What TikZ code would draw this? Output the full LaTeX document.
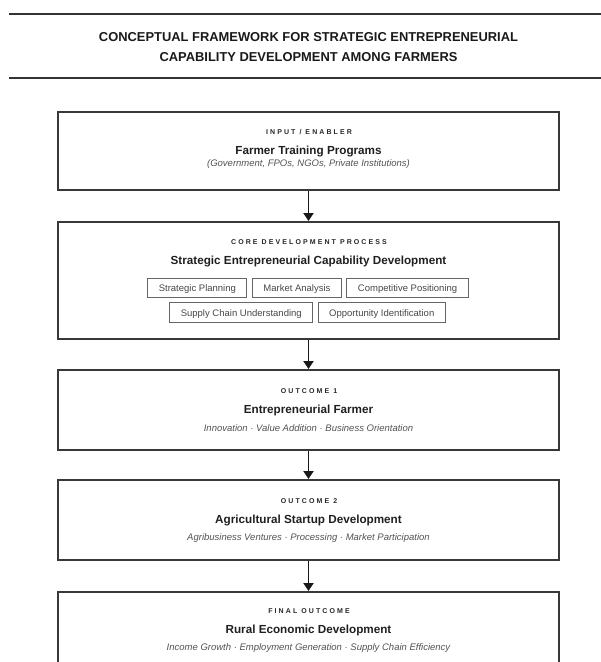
\documentclass[tikz,border=0pt]{standalone}
\usepackage{fontspec}
\setmainfont{Liberation Sans}
\newfontfamily\tagfont[LetterSpace=30]{Liberation Sans}
\usetikzlibrary{arrows.meta, positioning}

\tikzset{
  stage/.style={draw=black!78, line width=2pt, minimum width=501pt, inner sep=0pt, anchor=north},
  tag/.style={font=\tagfont\bfseries\fontsize{7}{8}\selectfont, text=black!85},
  head/.style={font=\bfseries\fontsize{11.7}{13}\selectfont, text=black!88},
  note/.style={font=\itshape\fontsize{9.5}{11}\selectfont, text=black!68},
  skill/.style={draw=black!60, line width=1pt, font=\fontsize{9.5}{10}\selectfont, text=black!72, inner xsep=11pt, inner ysep=0pt, text height=8.5pt, text depth=1pt, minimum height=19.5pt},
  flow/.style={-{Triangle[length=8pt,width=10pt]}, line width=1.8pt, black!90}
}

\begin{document}
\begin{tikzpicture}[x=1pt, y=-1pt]
\useasboundingbox (0,0) rectangle (601,662);
\clip (0,0) rectangle (601,662);

% title
\draw[line width=2.5pt, black!80] (9,14) -- (601,14);
\draw[line width=2pt, black!80] (9,78) -- (601,78);
\node[font=\bfseries\fontsize{12.9}{15}\selectfont, text=black!90] (title1) at (308.5,37) {CONCEPTUAL FRAMEWORK FOR STRATEGIC ENTREPRENEURIAL};
\node[font=\bfseries\fontsize{12.9}{15}\selectfont, text=black!90] (title2) at (308.5,57) {CAPABILITY DEVELOPMENT AMONG FARMERS};

% stages
\node[stage, minimum height=78pt] (input) at (308.5,111) {};
\node[stage, minimum height=117pt] (core) at (308.5,221) {};
\node[stage, minimum height=80pt] (farmer) at (308.5,369) {};
\node[stage, minimum height=80pt] (startup) at (308.5,479) {};
\node[stage, minimum height=90pt] (rural) at (308.5,591) {};

% input / enabler
\node[tag] (inputtag) at (309,132) {INPUT / ENABLER};
\node[head] (inputhead) at (308.5,151) {Farmer Training Programs};
\node[note] (inputnote) at (308.5,164) {(Government, FPOs, NGOs, Private Institutions)};

% core process
\node[tag] (coretag) at (309,242) {CORE DEVELOPMENT PROCESS};
\node[head] (corehead) at (308.5,261) {Strategic Entrepreneurial Capability Development};
\node[skill, anchor=west] (planning) at (147.3,288) {Strategic Planning};
\node[skill, right=4.5pt of planning] (market) {Market Analysis};
\node[skill, right=4.5pt of market] (position) {Competitive Positioning};
\node[skill, anchor=west] (supply) at (169.3,312.5) {Supply Chain Understanding};
\node[skill, right=4.5pt of supply] (opportunity) {Opportunity Identification};

% outcome 1
\node[tag] (farmertag) at (309,391) {OUTCOME 1};
\node[head] (farmerhead) at (308.5,410) {Entrepreneurial Farmer};
\node[note] (farmernote) at (308.5,428) {Innovation · Value Addition · Business Orientation};

% outcome 2
\node[tag] (startuptag) at (309,501) {OUTCOME 2};
\node[head] (startuphead) at (308.5,520) {Agricultural Startup Development};
\node[note] (startupnote) at (308.5,538) {Agribusiness Ventures · Processing · Market Participation};

% final outcome
\node[tag] (ruraltag) at (309,611) {FINAL OUTCOME};
\node[head] (ruralhead) at (308.5,630) {Rural Economic Development};
\node[note] (ruralnote) at (308.5,648) {Income Growth · Employment Generation · Supply Chain Efficiency};

% arrows
\draw[flow] (input) -- (core);
\draw[flow] (core) -- (farmer);
\draw[flow] (farmer) -- (startup);
\draw[flow] (startup) -- (rural);
\end{tikzpicture}
\end{document}
